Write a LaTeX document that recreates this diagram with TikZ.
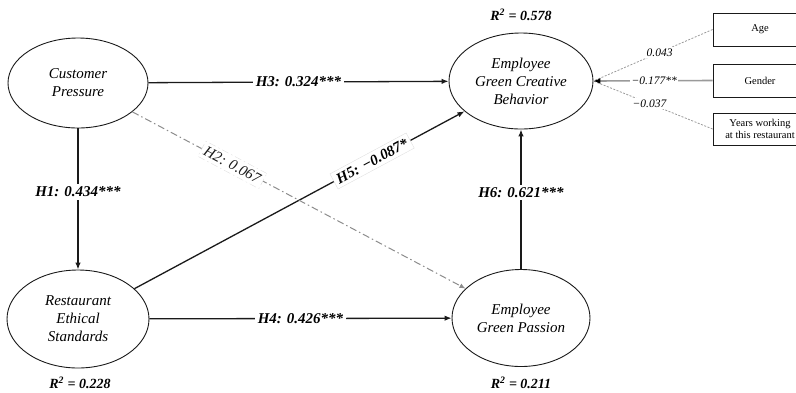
\documentclass[tikz,border=0pt]{standalone}
\usepackage{fontspec}
\setmainfont{Liberation Serif}
\usetikzlibrary{arrows.meta,shapes.geometric}
\definecolor{lnc}{HTML}{1A1A1A}
\definecolor{h2c}{HTML}{8C8C8C}
\definecolor{ctc}{HTML}{9A9A9A}
\begin{document}
\begin{tikzpicture}[x=1pt,y=1pt,
  lat/.style={draw=lnc, ellipse, line width=0.9pt, align=center, inner sep=0pt,
    font=\fontsize{15}{18}\selectfont\itshape},
  pth/.style={draw=lnc, line width=1.3pt, -{Latex[length=7pt,width=5.5pt]}},
  hlab/.style={fill=white, inner sep=2.5pt, font=\fontsize{15}{18}\selectfont\bfseries\itshape},
  rlab/.style={font=\fontsize{14}{16}\selectfont\bfseries\itshape},
  ctrl/.style={draw=lnc, line width=0.8pt, align=center, inner sep=1pt,
    minimum width=94pt, font=\fontsize{10.5}{12.5}\selectfont},
  ctl/.style={draw=ctc, line width=0.8pt},
  clab/.style={fill=white, inner sep=1.5pt, font=\fontsize{11.5}{13}\selectfont\itshape}
]
\useasboundingbox (0,0) rectangle (796,-392);

% latent variables
\node[lat, minimum width=140pt, minimum height=90pt] (cp) at (78,-83) {Customer\\Pressure};
\node[lat, minimum width=142pt, minimum height=98pt] (res) at (78,-319) {Restaurant\\Ethical\\Standards};
\node[lat, minimum width=138pt, minimum height=97pt] (egp) at (521,-318) {Employee\\Green Passion};
\node[lat, minimum width=144pt, minimum height=96pt] (cgb) at (521,-81) {Employee\\Green Creative\\Behavior};

% R^2 labels
\node[rlab] (r1) at (521,-15) {R\textsuperscript{2} = 0.578};
\node[rlab] (r2) at (80,-383) {R\textsuperscript{2} = 0.228};
\node[rlab] (r3) at (521,-383) {R\textsuperscript{2} = 0.211};

% paths
\draw[pth] (cp) -- node[hlab] {H3: 0.324***} (cgb);
\draw[pth] (cp) -- node[hlab, pos=0.45] {H1: 0.434***} (res);
\draw[pth] (res) -- node[hlab] {H4: 0.426***} (egp);
\draw[pth] (egp) -- node[hlab, pos=0.55] {H6: 0.621***} (cgb);
\draw[pth] (res) -- node[hlab, sloped, pos=0.72, inner sep=3.5pt, draw=black!12, line width=0.4pt] {H5: −0.087*} (cgb);
\draw[draw=h2c, line width=1pt, dash pattern=on 7pt off 3pt on 1.5pt off 3pt,
      -{Latex[length=6pt,width=5pt,color=h2c]}]
  (cp) -- node[sloped, pos=0.3, fill=white, draw=black!12, line width=0.4pt, inner sep=3.5pt,
      font=\fontsize{15}{18}\selectfont\itshape, text=lnc] {H2: 0.067} (egp);

% control variables
\node[ctrl, minimum height=33pt] (age) at (760,-29.5) {Age};
\node[ctrl, minimum height=33pt] (gen) at (760,-80.5) {Gender};
\node[ctrl, minimum height=32pt] (yrs) at (760,-129) {Years working\\at this restaurant};

\draw[ctl, dash pattern=on 2pt off 1.5pt] (age.west) -- node[clab, pos=0.445] {0.043} (cgb.east);
\draw[ctl, dash pattern=on 2pt off 1.5pt] (yrs.west) -- node[clab, pos=0.53] {−0.037} (cgb.east);
\draw[ctl, line width=1.6pt, -{Latex[length=7pt,width=6pt,color=black]}] (gen.west) -- node[clab, pos=0.49] {−0.177**} (cgb.east);
\end{tikzpicture}
\end{document}
